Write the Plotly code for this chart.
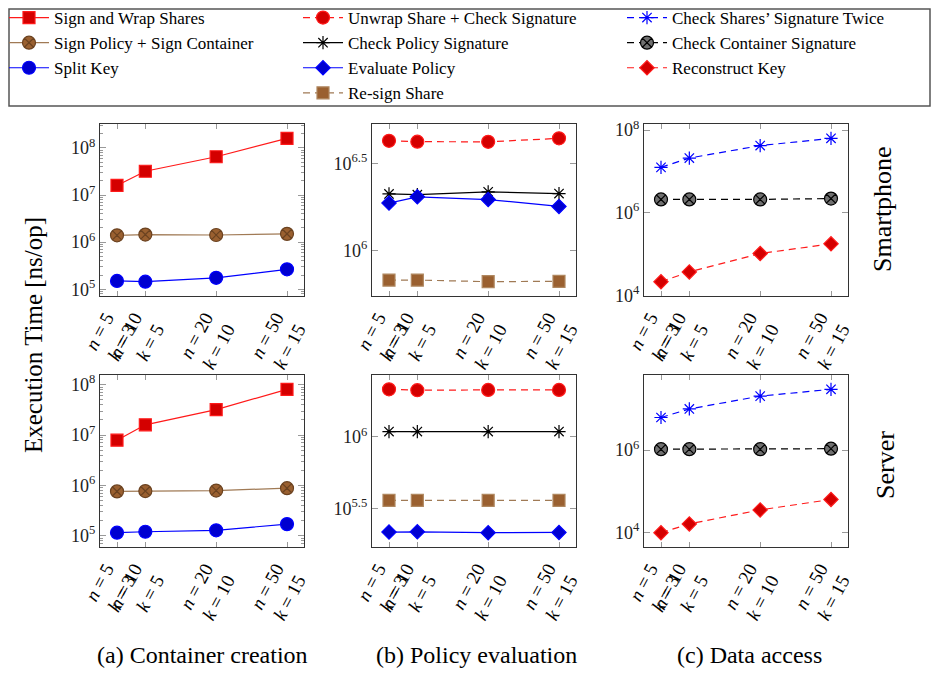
import numpy as np
import plotly.graph_objects as go

# ---------------- data ----------------
n_vals = [5, 10, 20, 50]
k_vals = [3, 5, 10, 15]

# Smartphone
sign_wrap_phone = [1.6e7, 3.2e7, 6.5e7, 1.6e8]
sign_policy_phone = [1.4e6, 1.45e6, 1.42e6, 1.5e6]
split_key_phone = [1.5e5, 1.45e5, 1.75e5, 2.65e5]
unwrap_phone = [4.26e6, 4.21e6, 4.2e6, 4.4e6]
check_policy_phone = [2.11e6, 2.09e6, 2.17e6, 2.12e6]
eval_policy_phone = [1.87e6, 2.03e6, 1.96e6, 1.79e6]
resign_phone = [6.76e5, 6.76e5, 6.62e5, 6.65e5]
check_twice_phone = [1.25e7, 2.1e7, 4.2e7, 6.3e7]
check_container_phone = [2.1e6, 2.1e6, 2.1e6, 2.2e6]
reconstruct_phone = [2.15e4, 3.7e4, 1.03e5, 1.77e5]

# Server
sign_wrap_server = [7.9e6, 1.6e7, 3.2e7, 8.1e7]
sign_policy_server = [7.6e5, 7.7e5, 7.9e5, 8.8e5]
split_key_server = [1.15e5, 1.2e5, 1.28e5, 1.7e5]
unwrap_server = [2.15e6, 2.12e6, 2.13e6, 2.13e6]
check_policy_server = [1.09e6, 1.09e6, 1.09e6, 1.09e6]
eval_policy_server = [2.16e5, 2.17e5, 2.14e5, 2.15e5]
resign_server = [3.6e5, 3.6e5, 3.6e5, 3.6e5]
check_twice_server = [6.2e6, 1.0e7, 2.05e7, 3.0e7]
check_container_server = [1.05e6, 1.05e6, 1.05e6, 1.08e6]
reconstruct_server = [9.8e3, 1.6e4, 3.5e4, 6.3e4]

panel_a = [("Sign and Wrap Shares", sign_wrap_phone, sign_wrap_server),
           ("Sign Policy + Sign Container", sign_policy_phone, sign_policy_server),
           ("Split Key", split_key_phone, split_key_server)]
panel_b = [("Unwrap Share + Check Signature", unwrap_phone, unwrap_server),
           ("Check Policy Signature", check_policy_phone, check_policy_server),
           ("Evaluate Policy", eval_policy_phone, eval_policy_server),
           ("Re-sign Share", resign_phone, resign_server)]
panel_c = [("Check Shares’ Signature Twice", check_twice_phone, check_twice_server),
           ("Check Container Signature", check_container_phone, check_container_server),
           ("Reconstruct Key", reconstruct_phone, reconstruct_server)]

captions = ["(a) Container creation", "(b) Policy evaluation", "(c) Data access"]
row_labels = ["Smartphone", "Server"]
y_title = "Execution Time [ns/op]"

# ---------------- styles ----------------
FONT = "Liberation Serif, Times New Roman, serif"
DASH = "7px,5px"
RED_FILL, RED_LINE = "#d40000", "#ff1a1a"
BLUE_FILL, BLUE_LINE = "#0000d0", "#0000ff"
BROWN_FILL, BROWN_LINE = "#9a6030", "#a07a55"
styles = {
    "Sign and Wrap Shares": dict(symbol="square", size=12, fill=RED_FILL, edge=RED_LINE, lc=RED_LINE, dash="solid", legend="legend"),
    "Sign Policy + Sign Container": dict(symbol="circle-x", size=13, fill=BROWN_FILL, edge="#6b4220", lc=BROWN_LINE, dash="solid", legend="legend"),
    "Split Key": dict(symbol="circle", size=13, fill=BLUE_FILL, edge=BLUE_LINE, lc=BLUE_LINE, dash="solid", legend="legend"),
    "Unwrap Share + Check Signature": dict(symbol="circle", size=13, fill=RED_FILL, edge=RED_LINE, lc=RED_LINE, dash=DASH, legend="legend2"),
    "Check Policy Signature": dict(symbol="asterisk-open", size=11, fill="black", edge="black", lc="black", dash="solid", legend="legend2"),
    "Evaluate Policy": dict(symbol="diamond", size=11, fill=BLUE_FILL, edge=BLUE_LINE, lc=BLUE_LINE, dash="solid", legend="legend2"),
    "Re-sign Share": dict(symbol="square", size=12, fill=BROWN_FILL, edge="#b08860", lc=BROWN_LINE, dash=DASH, legend="legend2"),
    "Check Shares’ Signature Twice": dict(symbol="asterisk-open", size=11, fill=BLUE_LINE, edge=BLUE_LINE, lc=BLUE_LINE, dash=DASH, legend="legend3"),
    "Check Container Signature": dict(symbol="circle-x", size=13, fill="#707070", edge="black", lc="black", dash=DASH, legend="legend3"),
    "Reconstruct Key": dict(symbol="diamond", size=11, fill=RED_FILL, edge=RED_LINE, lc=RED_LINE, dash=DASH, legend="legend3"),
}

# page has an 8px body margin: figure is sized to fit the 939x679 window
OFF = 8
W, H = 939 - 2 * OFF, 679 - 2 * OFF
def px_x(p): return (p - OFF) / W          # p in screen pixels
def px_y(p): return 1 - (p - OFF) / H

col_px = [(100, 304), (372, 576), (644, 848)]
row_px = [(124, 296), (375, 547)]

fig = go.Figure()
panels = [panel_a, panel_b, panel_c]
tick_text = [f"<i>n</i> = {n}<br><i>k</i> = {k}" for n, k in zip(n_vals, k_vals)]

ytick_sets = {
    (0, 0): [1e5, 1e6, 1e7, 1e8], (0, 1): [1e5, 1e6, 1e7, 1e8],
    (1, 0): [1e6, 10 ** 6.5], (1, 1): [10 ** 5.5, 1e6],
    (2, 0): [1e4, 1e6, 1e8], (2, 1): [1e4, 1e6],
}
def fmt_exp(v):
    e = np.log10(v)
    s = f"{e:.1f}".rstrip("0").rstrip(".")
    return f"10<sup>{s}</sup>"

ax_i = 0
legend_shown = set()
for r in range(2):
    for c in range(3):
        ax_i += 1
        xa = "x" if ax_i == 1 else f"x{ax_i}"
        ya = "y" if ax_i == 1 else f"y{ax_i}"
        allvals = []
        for name, ph, sv in panels[c]:
            vals = ph if r == 0 else sv
            allvals += vals
            st = styles[name]
            show = name not in legend_shown
            legend_shown.add(name)
            fig.add_trace(go.Scatter(
                x=k_vals, y=vals, name=name, mode="lines+markers",
                xaxis=xa, yaxis=ya, legend=st["legend"], showlegend=show,
                legendgroup=name,
                line=dict(color=st["lc"], width=1.2, dash=st["dash"]),
                marker=dict(symbol=st["symbol"], size=st["size"], color=st["fill"],
                            line=dict(color=st["edge"], width=1.2)),
            ))
        lo, hi = np.log10(min(allvals)), np.log10(max(allvals))
        pad = 0.1 * (hi - lo)
        kx = 0.1 * (max(k_vals) - min(k_vals))
        x0, x1 = col_px[c]
        y0, y1 = row_px[r]
        yt = ytick_sets[(c, r)]
        xaxis = dict(domain=[px_x(x0), px_x(x1)], anchor=ya, range=[min(k_vals) - kx, max(k_vals) + kx],
                     tickvals=k_vals, ticktext=tick_text, tickangle=-62, automargin=False,
                     ticks="inside", ticklen=5, tickcolor="#999999", mirror="ticks",
                     ticklabelstandoff=8,
                     showline=True, linecolor="#333333", linewidth=1.2, showgrid=False, zeroline=False,
                     tickfont=dict(family=FONT, size=19, color="black"))
        yaxis = dict(domain=[px_y(y1), px_y(y0)], anchor=xa, type="log", range=[lo - pad, hi + pad],
                     tickvals=yt, ticktext=[fmt_exp(v) for v in yt], automargin=False,
                     ticks="inside", ticklen=6, tickcolor="#999999", mirror="ticks",
                     showline=True, linecolor="#333333", linewidth=1.2, showgrid=False, zeroline=False,
                     tickfont=dict(family=FONT, size=18, color="#222222"))
        if c == 0:
            minors = [m * 10 ** e for e in range(4, 9) for m in range(2, 10)]
            yaxis["minor"] = dict(tickmode="array", tickvals=minors, ticks="inside", ticklen=3,
                                  tickcolor="#999999", showgrid=False)
        fig.update_layout(**{("xaxis" if ax_i == 1 else f"xaxis{ax_i}"): xaxis,
                             ("yaxis" if ax_i == 1 else f"yaxis{ax_i}"): yaxis})

# annotations
ann = []
ann.append(dict(x=px_x(33), y=px_y(335), xref="paper", yref="paper", text=y_title, textangle=-90,
                xanchor="center", yanchor="middle",
                showarrow=False, font=dict(family=FONT, size=25, color="black")))
for lbl, (yc, xc) in zip(row_labels, [(209, 882), (465, 885)]):
    ann.append(dict(x=px_x(xc), y=px_y(yc), xref="paper", yref="paper", text=lbl, textangle=-90,
                    xanchor="center", yanchor="middle",
                    showarrow=False, font=dict(family=FONT, size=26, color="black")))
for cap, xc in zip(captions, [202, 476, 749]):
    ann.append(dict(x=px_x(xc), y=px_y(655), xref="paper", yref="paper", text=cap,
                    xanchor="center", yanchor="middle",
                    showarrow=False, font=dict(family=FONT, size=24, color="black")))

leg_common = dict(orientation="v", yanchor="top", xanchor="left", bgcolor="rgba(0,0,0,0)",
                  font=dict(family=FONT, size=17, color="black"), tracegroupgap=0,
                  itemwidth=40)
fig.update_layout(
    width=W, height=H, margin=dict(l=0, r=0, t=0, b=0, autoexpand=False),
    paper_bgcolor="white", plot_bgcolor="white",
    annotations=ann,
    legend=dict(x=px_x(4), y=px_y(0), **leg_common),
    legend2=dict(x=px_x(298), y=px_y(0), **leg_common),
    legend3=dict(x=px_x(622), y=px_y(0), **leg_common),
    shapes=[dict(type="rect", xref="paper", yref="paper", x0=px_x(9), x1=px_x(930),
                 y0=px_y(106), y1=px_y(9), line=dict(color="#555555", width=1.5))],
)

fig.write_html("out.html")
